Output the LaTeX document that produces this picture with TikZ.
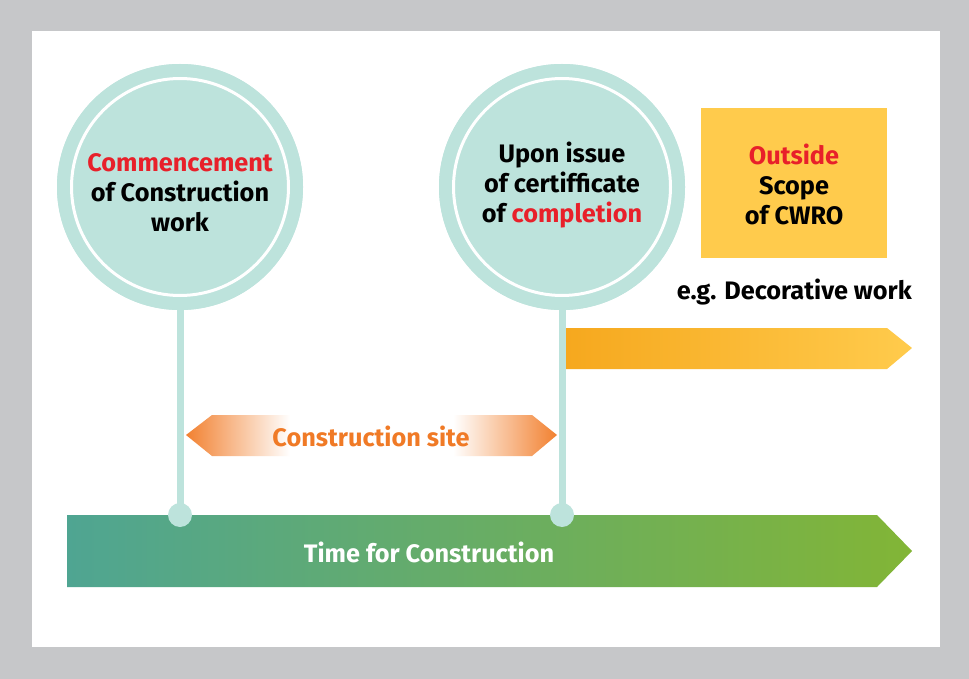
\documentclass[tikz,border=0pt]{standalone}
\usepackage{fontspec}
\setmainfont{Fira Sans}
\definecolor{framegray}{HTML}{C6C7C9}
\definecolor{teal}{HTML}{BDE3DC}
\definecolor{cred}{HTML}{E8202A}
\definecolor{corange}{HTML}{F28130}
\definecolor{torange}{HTML}{F07A26}
\definecolor{gstart}{HTML}{4FA592}
\definecolor{gend}{HTML}{82B536}
\definecolor{ystart}{HTML}{F6A81E}
\definecolor{yend}{HTML}{FFCB4C}
\definecolor{ybox}{HTML}{FFCB4C}
\tikzset{
  outercirc/.style={circle, fill=teal, minimum size=246pt, inner sep=0pt},
  innercirc/.style={circle, fill=teal, draw=white, line width=3pt, minimum size=217pt, inner sep=0pt},
  pole/.style={draw=teal, line width=7pt},
  dotnode/.style={circle, fill=teal, minimum size=24pt, inner sep=0pt},
  txt/.style={font=\fontsize{25.3}{30}\selectfont\bfseries, align=center, inner sep=0pt},
  scopebox/.style={fill=ybox, minimum width=186pt, minimum height=150pt, inner sep=0pt},
}
\begin{document}
\begin{tikzpicture}[x=1pt,y=-1pt]
\useasboundingbox (0,0) rectangle (969,679);
\fill[framegray] (0,0) rectangle (969,679);
\fill[white] (32,31) rectangle (940,647);
% green time arrow
\shade[left color=gstart, right color=gend] (67,515) -- (877,515) -- (912,551) -- (877,587) -- (67,587) -- cycle;
% orange right arrow
\shade[left color=ystart, right color=yend] (566,328) -- (887,328) -- (912,348) -- (887,369) -- (566,369) -- cycle;
% construction site double arrow
\shade[left color=corange, right color=white] (186,435) -- (212,415) -- (290,415) -- (290,456) -- (212,456) -- cycle;
\shade[left color=white, right color=corange] (453,415) -- (532,415) -- (557,435) -- (532,456) -- (453,456) -- cycle;
% circles, poles, dots
\node[outercirc] (o1) at (180,187) {};
\node[outercirc] (o2) at (562,187) {};
\node[dotnode] (d1) at (180,515) {};
\node[dotnode] (d2) at (562,515) {};
\draw[pole] (o1.center) -- (d1.center);
\draw[pole] (o2.center) -- (d2.center);
\node[outercirc] at (180,187) {};
\node[outercirc] at (562,187) {};
\node[innercirc] (i1) at (180,187) {};
\node[innercirc] (i2) at (562,187) {};
% texts
\node[txt] (t1) at (180,193) {\textcolor{cred}{Commencement}\\of Construction\\work};
\node[txt] (t2) at (562,185) {Upon issue\\of certif{}ficate\\of \textcolor{cred}{completion}};
\node[scopebox] (sb) at (794,183) {};
\node[txt] (t3) at (794,184) {\textcolor{cred}{Outside}\\Scope\\of CWRO};
\node[txt, anchor=east] (eg) at (912,292) {e.g. Decorative work};
\node[txt, text=torange] (cs) at (371,436) {Construction site};
\node[txt, text=white] (tc) at (429,552) {Time for Construction};
\end{tikzpicture}
\end{document}
